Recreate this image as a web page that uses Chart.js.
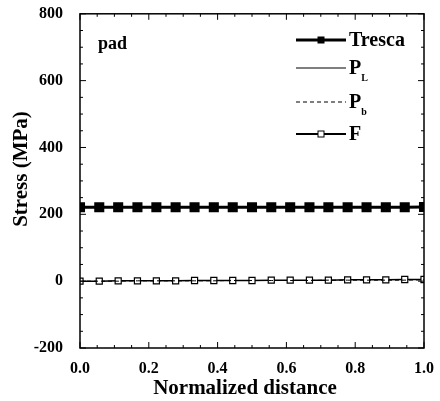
<!DOCTYPE html>
<html>
<head>
<meta charset="utf-8">
<script src="https://cdn.jsdelivr.net/npm/chart.js@4.4.1/dist/chart.umd.min.js"></script>
<style>
  html, body { margin: 0; padding: 0; background: #fff; }
  #wrap { width: 440px; height: 401px; }
</style>
</head>
<body>
<div id="wrap"><canvas id="c" width="440" height="401"></canvas></div>
<script>
// normalized distance samples
const distance = [0, 0.056, 0.111, 0.167, 0.222, 0.278, 0.333, 0.389, 0.444, 0.5,
  0.556, 0.611, 0.667, 0.722, 0.778, 0.833, 0.889, 0.944, 1.0];
const tresca = [221, 221, 221, 221, 221, 221, 221, 221, 221, 221,
  221, 221, 221, 221, 221, 221, 221, 221, 222];
const pL = [221, 221, 221, 221, 221, 221, 221, 221, 221, 221,
  221, 221, 221, 221, 221, 221, 221, 221, 222];
const pB = [0, 0, 0, 1, 1, 1, 1, 1, 2, 2, 2, 2, 2, 3, 3, 3, 3, 3, 4];
const fStress = [0, 0, 1, 1, 1, 1, 2, 2, 2, 2, 3, 3, 3, 3, 4, 4, 4, 5, 5];
const xTicks = [0, 0.2, 0.4, 0.6, 0.8, 1.0];
const yTicks = [-200, 0, 200, 400, 600, 800];

const FONT = '"Liberation Serif", "DejaVu Serif", serif';

function pts(ys) {
  return distance.map((x, i) => ({ x: x, y: ys[i] }));
}

// inward tick marks, frame, axis titles, "pad" label and the legend
const decor = {
  id: "decor",
  afterDraw(chart) {
    const { ctx, chartArea: a, scales } = chart;
    const xs = scales.x, ys = scales.y;
    ctx.save();
    ctx.strokeStyle = "#000";
    ctx.lineWidth = 1.5;
    ctx.strokeRect(a.left, a.top, a.right - a.left, a.bottom - a.top);
    ctx.lineWidth = 1;
    for (let v = 0; v <= 1.0001; v += 0.05) {
      const px = xs.getPixelForValue(v);
      const major = Math.abs(v * 5 - Math.round(v * 5)) < 1e-6;
      const len = major ? 6 : 3;
      ctx.beginPath();
      ctx.moveTo(px, a.bottom); ctx.lineTo(px, a.bottom - len);
      ctx.moveTo(px, a.top); ctx.lineTo(px, a.top + len);
      ctx.stroke();
    }
    for (let v = -200; v <= 800; v += 50) {
      const py = ys.getPixelForValue(v);
      const len = v % 200 === 0 ? 6 : 3;
      ctx.beginPath();
      ctx.moveTo(a.left, py); ctx.lineTo(a.left + len, py);
      ctx.moveTo(a.right, py); ctx.lineTo(a.right - len, py);
      ctx.stroke();
    }

    ctx.fillStyle = "#000";
    ctx.textBaseline = "middle";
    ctx.textAlign = "center";
    ctx.font = "bold 21px " + FONT;
    ctx.fillText("Normalized distance", 245, 389);
    ctx.save();
    ctx.translate(22, 169);
    ctx.rotate(-Math.PI / 2);
    ctx.fillText("Stress (MPa)", 0, 0);
    ctx.restore();

    ctx.textAlign = "left";
    ctx.font = "bold 18px " + FONT;
    ctx.fillText("pad", 98, 44);

    // legend
    const lx0 = 296, lx1 = 346, tx = 349;
    const rows = [
      { y: 40, w: 3, dash: [], mark: "fill", label: "Tresca" },
      { y: 68, w: 1, dash: [], mark: null, label: "P", sub: "L" },
      { y: 102, w: 1.2, dash: [4, 3], mark: null, label: "P", sub: "b" },
      { y: 134, w: 2, dash: [], mark: "open", label: "F" }
    ];
    rows.forEach(r => {
      ctx.lineWidth = r.w;
      ctx.setLineDash(r.dash);
      ctx.beginPath();
      ctx.moveTo(lx0, r.y); ctx.lineTo(lx1, r.y);
      ctx.stroke();
      ctx.setLineDash([]);
      const mx = (lx0 + lx1) / 2;
      if (r.mark === "fill") {
        ctx.fillRect(mx - 3.5, r.y - 3.5, 7, 7);
      } else if (r.mark === "open") {
        ctx.fillStyle = "#fff";
        ctx.fillRect(mx - 3, r.y - 3, 6, 6);
        ctx.fillStyle = "#000";
        ctx.lineWidth = 1;
        ctx.strokeRect(mx - 3, r.y - 3, 6, 6);
      }
      ctx.font = "bold 20px " + FONT;
      ctx.fillText(r.label, tx, r.y + 1);
      if (r.sub) {
        const w = ctx.measureText(r.label).width;
        ctx.font = "bold 10px " + FONT;
        ctx.fillText(r.sub, tx + w, r.y + 10);
      }
    });
    ctx.restore();
  }
};

new Chart(document.getElementById("c"), {
  type: "scatter",
  data: {
    datasets: [
      {
        label: "Tresca", data: pts(tresca), showLine: true,
        borderColor: "#000", backgroundColor: "#000", borderWidth: 3,
        pointStyle: "rect", pointRadius: 5, pointHoverRadius: 5
      },
      {
        label: "PL", data: pts(pL), showLine: true,
        borderColor: "#000", borderWidth: 1, pointRadius: 0
      },
      {
        label: "Pb", data: pts(pB), showLine: true,
        borderColor: "#000", borderWidth: 1, borderDash: [4, 3], pointRadius: 0
      },
      {
        label: "F", data: pts(fStress), showLine: true,
        borderColor: "#000", backgroundColor: "#fff", borderWidth: 1.5,
        pointStyle: "rect", pointRadius: 4.3, pointBorderWidth: 1.2
      }
    ]
  },
  options: {
    responsive: false,
    animation: false,
    layout: { padding: { left: 0, right: 16, top: 13, bottom: 0 } },
    plugins: { legend: { display: false }, tooltip: { enabled: false } },
    scales: {
      x: {
        type: "linear", min: 0, max: 1,
        afterBuildTicks(s) { s.ticks = xTicks.map(v => ({ value: v })); },
        afterFit(s) { s.height = 53; },
        grid: { display: false },
        border: { display: false },
        ticks: {
          color: "#000", padding: 3,
          font: { family: FONT, size: 16, weight: "bold" },
          callback: v => v.toFixed(1)
        }
      },
      y: {
        min: -200, max: 800,
        afterBuildTicks(s) { s.ticks = yTicks.map(v => ({ value: v })); },
        afterFit(s) { s.width = 80; },
        grid: { display: false },
        border: { display: false },
        ticks: {
          color: "#000", padding: 9,
          font: { family: FONT, size: 16, weight: "bold", lineHeight: 0.6 }
        }
      }
    }
  },
  plugins: [decor]
});
</script>
</body>
</html>
